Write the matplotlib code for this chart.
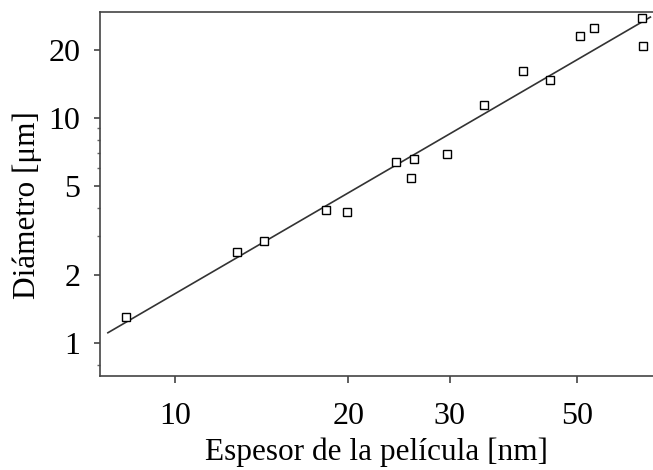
import numpy as np
import matplotlib
matplotlib.use("Agg")
import matplotlib.pyplot as plt
from matplotlib.ticker import FixedLocator, NullFormatter, FixedFormatter

plt.rcParams['font.family'] = ['Liberation Serif', 'DejaVu Serif']

# datos
espesor = [8.24, 12.8, 14.3, 18.3, 19.9, 24.2, 26.0, 25.7, 29.7,
           34.4, 40.3, 44.8, 50.6, 53.5, 64.9, 65.0]
diametro = [1.31, 2.53, 2.85, 3.90, 3.83, 6.35, 6.55, 5.43, 6.92,
            11.4, 16.1, 14.8, 23.1, 25.0, 27.7, 20.9]

# recta de ajuste (extremos)
ajuste_x = [7.65, 67.0]
ajuste_y = [1.11, 28.1]

xticks = [10, 20, 30, 50]
yticks = [1, 2, 5, 10, 20]
yminor = [0.8, 3, 4, 6, 7, 8, 9]

fig = plt.figure(figsize=(6.53, 4.70), dpi=100)
ax = fig.add_axes([0.153, 0.2, 0.847, 0.7745])

ax.plot(ajuste_x, ajuste_y, '-', color='#333333', lw=1.2)
ax.plot(espesor, diametro, 's', ms=6, mfc='white', mec='black', mew=1.0)

ax.set_xscale('log')
ax.set_yscale('log')
ax.set_xlim(7.41, 67.7)
ax.set_ylim(0.713, 29.6)

ax.xaxis.set_major_locator(FixedLocator(xticks))
ax.xaxis.set_major_formatter(FixedFormatter([str(t) for t in xticks]))
ax.xaxis.set_minor_locator(FixedLocator([]))
ax.xaxis.set_minor_formatter(NullFormatter())
ax.yaxis.set_major_locator(FixedLocator(yticks))
ax.yaxis.set_major_formatter(FixedFormatter([str(t) for t in yticks]))
ax.yaxis.set_minor_locator(FixedLocator(yminor))
ax.yaxis.set_minor_formatter(NullFormatter())

ax.spines['right'].set_visible(False)
for s in ['left', 'top', 'bottom']:
    ax.spines[s].set_color('#444444')
    ax.spines[s].set_linewidth(1.2)

ax.tick_params(axis='x', which='major', direction='out', length=5, width=1.2,
               pad=14, labelsize=23, color='#444444')
ax.tick_params(axis='y', which='major', direction='out', length=4, width=1.2,
               pad=10, labelsize=23, color='#444444')
ax.tick_params(axis='y', which='minor', direction='out', length=2, width=1,
               color='#666666')

ax.set_xlabel('Espesor de la película [nm]', fontsize=22.5)
ax.set_ylabel('Diámetro [μm]', fontsize=22.5)
ax.xaxis.set_label_coords(0.5, -0.21)
ax.xaxis.label.set_va('center')
ax.yaxis.set_label_coords(-0.132, 0.47)
ax.yaxis.label.set_va('center')

fig.savefig('out.png', dpi=100)
